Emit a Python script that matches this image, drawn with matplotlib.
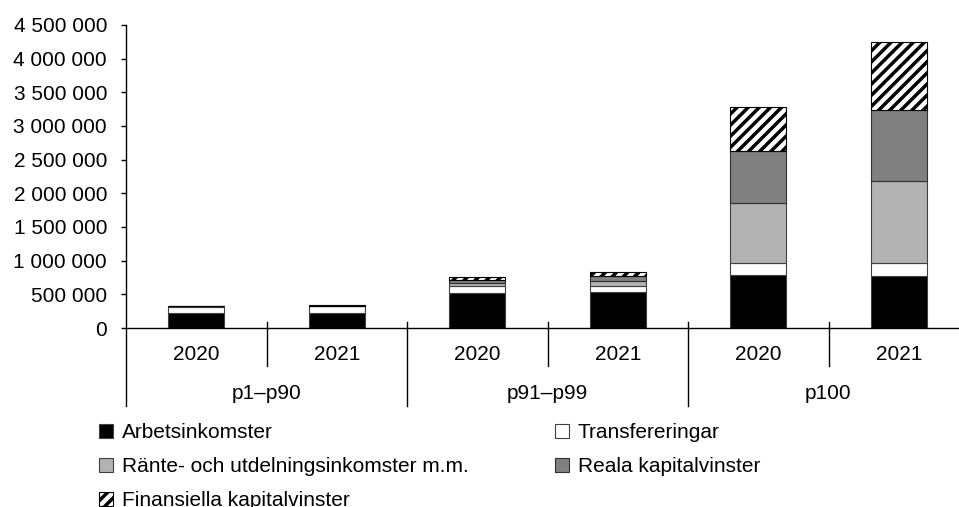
import matplotlib
matplotlib.use("Agg")
import matplotlib.pyplot as plt
import matplotlib.patches as mpatches
from matplotlib.ticker import FuncFormatter
import numpy as np

plt.rcParams['font.family'] = ['Liberation Sans', 'DejaVu Sans']
plt.rcParams['hatch.linewidth'] = 2.5

years = ['2020', '2021', '2020', '2021', '2020', '2021']
groups = ['p1–p90', 'p91–p99', 'p100']

arbets = [218000, 227000, 520000, 540000, 787000, 777000]
transf = [100000, 98000, 98000, 90000, 178000, 184000]
rante = [8000, 7000, 52000, 72000, 891000, 1227000]
reala = [2000, 2000, 45000, 68000, 777000, 1050000]
finans = [3000, 3000, 40000, 57000, 649000, 1014000]

series = [
    ('Arbetsinkomster', arbets, dict(facecolor='black', edgecolor='#404040')),
    ('Transfereringar', transf, dict(facecolor='white', edgecolor='#404040')),
    ('Ränte- och utdelningsinkomster m.m.', rante, dict(facecolor='#b3b3b3', edgecolor='#404040')),
    ('Reala kapitalvinster', reala, dict(facecolor='#808080', edgecolor='#303030')),
    ('Finansiella kapitalvinster', finans, dict(facecolor='white', edgecolor='black', hatch='///')),
]

W, H = 959, 507
fig = plt.figure(figsize=(W / 100, H / 100), dpi=100)
left_px, right_px, top_px, bot_px = 126, 969, 25, 328
ax = fig.add_axes([left_px / W, (H - bot_px) / H, (right_px - left_px) / W, (bot_px - top_px) / H])

x = np.arange(len(years)) + 0.5
bottom = np.zeros(len(years))
handles = {}
for name, vals, style in series:
    b = ax.bar(x, vals, width=0.4, bottom=bottom, linewidth=0.8, label=name, **style)
    handles[name] = b
    bottom += np.array(vals)

ax.set_xlim(0, 6)
ax.set_ylim(0, 4500000)
ax.set_yticks(np.arange(0, 4500001, 500000))
ax.yaxis.set_major_formatter(FuncFormatter(lambda v, p: f"{int(v):,}".replace(",", " ")))
ax.tick_params(axis='y', direction='out', length=3.6, width=1, pad=10, labelsize=15)
ax.set_xticks([])
for s in ['top', 'right']:
    ax.spines[s].set_visible(False)
for s in ['left', 'bottom']:
    ax.spines[s].set_linewidth(1.0)
    ax.spines[s].set_color('black')

ah = bot_px - top_px
tr = ax.get_xaxis_transform()
# year separators
for xv in [1, 3, 5]:
    ax.plot([xv, xv], [6 / ah, -38 / ah], transform=tr, color='black', lw=1, clip_on=False)
# group separators
for xv in [0, 2, 4, 6]:
    ax.plot([xv, xv], [6 / ah if xv else 0, -78 / ah], transform=tr, color='black', lw=1, clip_on=False)

for xi, yr in zip(x, years):
    ax.text(xi, -26 / ah, yr, transform=tr, ha='center', va='center', fontsize=15)
for gi, g in enumerate(groups):
    ax.text(2 * gi + 1, -65.5 / ah, g, transform=tr, ha='center', va='center', fontsize=15)

col1 = ['Arbetsinkomster', 'Ränte- och utdelningsinkomster m.m.', 'Finansiella kapitalvinster']
col2 = ['Transfereringar', 'Reala kapitalvinster']
common = dict(frameon=False, fontsize=15, handlelength=0.65, handleheight=0.65,
              handletextpad=0.45, labelspacing=0.72, borderpad=0, borderaxespad=0,
              loc='upper left')
leg1 = fig.legend([handles[n] for n in col1], col1, bbox_to_anchor=(99 / W, (H - 423) / H), **common)
leg2 = fig.legend([handles[n] for n in col2], col2, bbox_to_anchor=(555 / W, (H - 423) / H), **common)

fig.savefig('out.png', dpi=100)
